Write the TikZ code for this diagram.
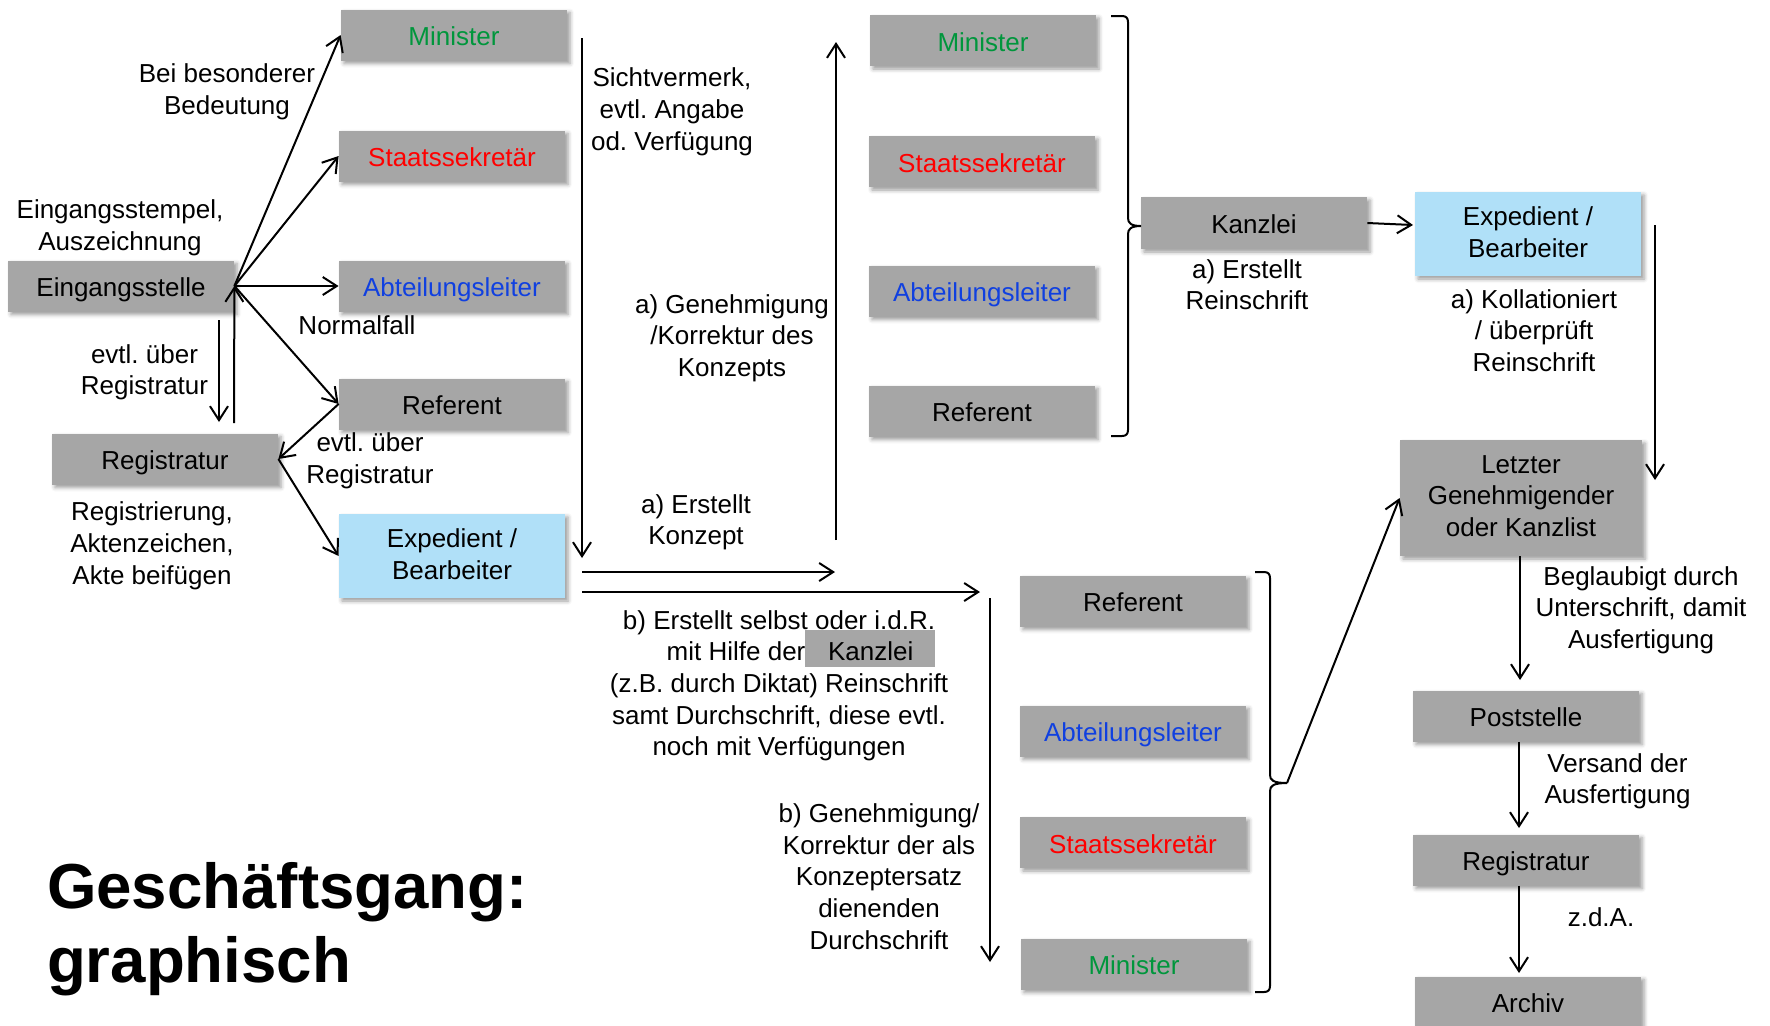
\documentclass[tikz,border=0pt]{standalone}
\usepackage{fontspec}
\setmainfont{Liberation Sans}
\usetikzlibrary{arrows.meta,shadows.blur,calc}
\frenchspacing
\definecolor{boxgray}{RGB}{166,166,166}
\definecolor{lblue}{RGB}{176,224,248}
\definecolor{mgreen}{RGB}{0,150,60}
\definecolor{mred}{RGB}{255,0,0}
\definecolor{mblue}{RGB}{16,64,224}
\newcommand\lblfont{\fontsize{13pt}{15.85pt}\selectfont}
\newcommand\ttlfont{\fontsize{31.8pt}{36pt}\selectfont\bfseries}
\newcommand\mystrut{\rule[-2.9pt]{0pt}{15.1pt}}
\newcommand\boxstrut{\rule[-2.2pt]{0pt}{15.1pt}}
\begin{document}
\begin{tikzpicture}[x=0.5pt,y=-0.5pt,
  box/.style={fill=boxgray, minimum width=113pt, minimum height=25.5pt, inner sep=0pt,
    align=center, font=\lblfont,
    execute at begin node=\boxstrut, execute at end node=\boxstrut,
    blur shadow={shadow xshift=1.5pt,shadow yshift=-1.5pt,shadow blur radius=2pt,shadow opacity=40}},
  bbox/.style={box, fill=lblue, minimum height=42pt},
  txt/.style={align=center, font=\lblfont, inner sep=0pt, yshift=-1.2pt,
    execute at begin node=\mystrut, execute at end node=\mystrut},
  arr/.style={-{Straight Barb[length=7pt,width=9pt]}, line width=1pt},
  brc/.style={line width=1pt}
]
\path[use as bounding box] (0,0) rectangle (1770,1025);

% boxes
\node[box] (ein) at (121,286) {Eingangsstelle};
\node[box] (regL) at (165,459) {Registratur};
\node[box,text=mgreen] (minL) at (454,35) {Minister};
\node[box,text=mred] (stsL) at (452,156) {Staatssekretär};
\node[box,text=mblue] (abtL) at (452,286) {Abteilungsleiter};
\node[box] (refL) at (452,404) {Referent};
\node[bbox] (expL) at (452,556) {Expedient /\\Bearbeiter};
\node[box,text=mgreen] (minR) at (983,40.5) {Minister};
\node[box,text=mred] (stsR) at (982,161.5) {Staatssekretär};
\node[box,text=mblue] (abtR) at (982,291) {Abteilungsleiter};
\node[box] (refR) at (982,411) {Referent};
\node[box, minimum height=26pt] (kanz) at (1254,223) {Kanzlei};
\node[bbox] (expR) at (1528,234) {Expedient /\\Bearbeiter};
\node[box, minimum width=121pt, minimum height=58pt] (letzt) at (1521,498) {Letzter\\Genehmigender\\oder Kanzlist};
\node[box] (post) at (1526,716) {Poststelle};
\node[box] (regR) at (1526,860) {Registratur};
\node[box] (archiv) at (1528,1002) {Archiv};
\node[box] (refR2) at (1133,601) {Referent};
\node[box,text=mblue] (abtR2) at (1133,731) {Abteilungsleiter};
\node[box,text=mred] (stsR2) at (1133,842.5) {Staatssekretär};
\node[box,text=mgreen] (minR2) at (1134,964) {Minister};

% labels
\node[txt] (l1) at (227,89.5) {Bei besonderer\\Bedeutung};
\node[txt] (l2) at (120,225.3) {Eingangsstempel,\\Auszeichnung};
\node[txt] (l3) at (357,323) {Normalfall};
\node[txt] (l4) at (144.5,370) {evtl. über\\Registratur};
\node[txt] (l5) at (370,458.7) {evtl. über\\Registratur};
\node[txt] (l6) at (152,543.7) {Registrierung,\\Aktenzeichen,\\Akte beifügen};
\node[txt] (l7) at (672,109.5) {Sichtvermerk,\\evtl. Angabe\\od. Verfügung};
\node[txt] (l8) at (732,336) {a) Genehmigung\\/Korrektur des\\Konzepts};
\node[txt] (l9) at (696,520) {a) Erstellt\\Konzept};
\node[txt] (l10) at (1247,285) {a) Erstellt\\Reinschrift};
\node[txt] (l11) at (1534,331) {a) Kollationiert\\/ überprüft\\Reinschrift};
\node[txt] (l12) at (779,683.5) {b) Erstellt selbst oder i.d.R.\\\hspace*{22pt}mit Hilfe der\smash{\fboxsep=0pt\colorbox{boxgray}{\rule[-3.35pt]{0pt}{18.85pt}\hspace{11.3pt}Kanzlei\hspace{11pt}}}\\(z.B. durch Diktat) Reinschrift\\samt Durchschrift, diese evtl.\\noch mit Verfügungen};
\node[txt] (l13) at (879,877) {b) Genehmigung/\\Korrektur der als\\Konzeptersatz\\dienenden\\Durchschrift};
\node[txt] (l14) at (1641,608) {Beglaubigt durch\\Unterschrift, damit\\Ausfertigung};
\node[txt] (l15) at (1617.5,779) {Versand der\\Ausfertigung};
\node[txt] (l16) at (1601,915) {z.d.A.};
\node[anchor=base west, font=\ttlfont, inner sep=0pt] (t1) at (46.7,908) {Geschäftsgang:};
\node[anchor=base west, font=\ttlfont, inner sep=0pt] (t2) at (46.7,982.5) {graphisch};

% free ends
\coordinate (dA) at (219,320); \coordinate (dB) at (219,422);
\coordinate (uA) at (234,423);
\coordinate (vA) at (582,38); \coordinate (vB) at (582,558);
\coordinate (gA) at (836,540); \coordinate (gB) at (836,42);
\coordinate (h1A) at (582,572); \coordinate (h1B) at (835,572);
\coordinate (h2A) at (582,592); \coordinate (h2B) at (980,592);
\coordinate (bA) at (990,598); \coordinate (bB) at (990,962);
\coordinate (kE) at (1413,225);
\coordinate (eA) at (1655,225); \coordinate (eB) at (1655,480);
\coordinate (pB) at (1520,680);
\coordinate (rB) at (1519,828);
\coordinate (aB) at (1519,973);
\coordinate (br1) at (1141,226);
\coordinate (br2) at (1287,783);

% arrows
\draw[arr] (ein.east) -- (minL.west);
\draw[arr] (ein.east) -- (stsL.west);
\draw[arr] (ein.east) -- (abtL.west);
\draw[arr] (ein.east) -- (refL.west);
\draw[arr] (dA) -- (dB);
\draw[arr] (uA) -- (ein.east);
\draw[arr] (refL.west) -- (regL.east);
\draw[arr] (regL.east) -- (expL.west);
\draw[arr] (vA) -- (vB);
\draw[arr] (gA) -- (gB);
\draw[arr] (h1A) -- (h1B);
\draw[arr] (h2A) -- (h2B);
\draw[arr] (bA) -- (bB);
\draw[arr] (kanz.east) -- (kE);
\draw[arr] (eA) -- (eB);
\draw[arr] (br2) -- (letzt.west);
\draw[arr] (letzt.south -| pB) -- (pB);
\draw[arr] (post.south -| rB) -- (rB);
\draw[arr] (regR.south -| aB) -- (aB);

% braces
\draw[brc] (1111,16) -- (1122,16) .. controls (1126,16) and (1128,18) .. (1128,22) -- (1128,218)
  .. controls (1128,223) and (1131,226) .. (br1)
  .. controls (1131,226) and (1128,229) .. (1128,234) -- (1128,430)
  .. controls (1128,434) and (1126,436) .. (1122,436) -- (1111,436);
\draw[brc] (1255,572) -- (1264,572) .. controls (1268,572) and (1270,574) .. (1270,578) -- (1270,775)
  .. controls (1270,780) and (1273,783) .. (br2)
  .. controls (1273,783) and (1270,786) .. (1270,791) -- (1270,986)
  .. controls (1270,990) and (1268,992) .. (1264,992) -- (1255,992);
\end{tikzpicture}
\end{document}
